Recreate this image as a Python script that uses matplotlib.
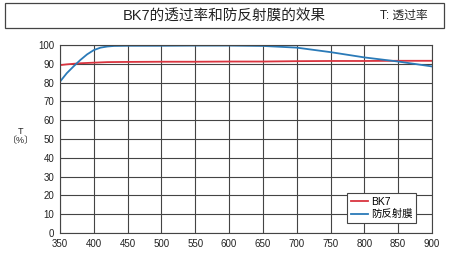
import matplotlib
matplotlib.use("Agg")
import matplotlib.pyplot as plt
from matplotlib.patches import Rectangle

plt.rcParams['font.family'] = ['Liberation Sans', 'Noto Sans CJK SC', 'DejaVu Sans']

title = "BK7的透过率和防反射膜的效果"
note = "T: 透过率"
series_names = ["BK7", "防反射膜"]

bk7_wl = [350, 360, 370, 380, 400, 420, 450, 500, 550, 600, 650, 700, 750, 800, 850, 900]
bk7_t = [89.3, 89.7, 90.0, 90.3, 90.6, 90.9, 91.0, 91.1, 91.1, 91.2, 91.2, 91.4, 91.5, 91.5, 91.6, 91.6]

ar_wl = [350, 360, 370, 380, 390, 400, 410, 420, 430, 450, 500, 550, 600, 650, 700, 750, 800, 850, 900]
ar_t = [80.5, 85.0, 88.6, 92.0, 95.0, 97.3, 98.6, 99.2, 99.5, 99.6, 99.6, 99.7, 99.7, 99.5, 98.6, 96.2, 93.4, 91.2, 88.6]

xticks = list(range(350, 901, 50))
yticks = list(range(0, 101, 10))

fig = plt.figure(figsize=(4.68, 2.62), dpi=100)

# title box
fig.patches.append(Rectangle((5/468, 1-28/262), 439/468, 25/262, transform=fig.transFigure,
                             fill=False, edgecolor='#444444', linewidth=0.9))
fig.text(224/468, 1-16/262, title, ha='center', va='center', fontsize=10.5, color='#222222')
fig.text(404/468, 1-16/262, note, ha='center', va='center', fontsize=8.5, color='#222222')

ax = fig.add_axes([60/468, 1-233/262, 372/468, 188/262])
ax.plot(bk7_wl, bk7_t, color='#d9343f', lw=1.3, label=series_names[0])
ax.plot(ar_wl, ar_t, color='#2a7ab8', lw=1.3, label=series_names[1])
ax.set_xlim(350, 900)
ax.set_ylim(0, 100)
ax.set_xticks(xticks)
ax.set_yticks(yticks)
ax.grid(True, color='#444444', lw=0.8)
ax.set_axisbelow(True)
for s in ax.spines.values():
    s.set_color('#444444')
    s.set_linewidth(0.8)
ax.tick_params(length=0, labelsize=7, colors='#222222', pad=4)

fig.text(21/468, 1-136/262, "T\n〔%〕", ha='center', va='center', fontsize=6.5,
         color='#222222', linespacing=1.0)

leg = ax.legend(loc='lower right', bbox_to_anchor=(1 - 16/372, 10/188), fontsize=7.5,
                frameon=True, fancybox=False, edgecolor='#444444', framealpha=1,
                handlelength=1.6, handletextpad=0.3, borderpad=0.35, labelspacing=0.25,
                borderaxespad=0)
leg.get_frame().set_linewidth(0.8)

fig.savefig("out.png", dpi=100)
